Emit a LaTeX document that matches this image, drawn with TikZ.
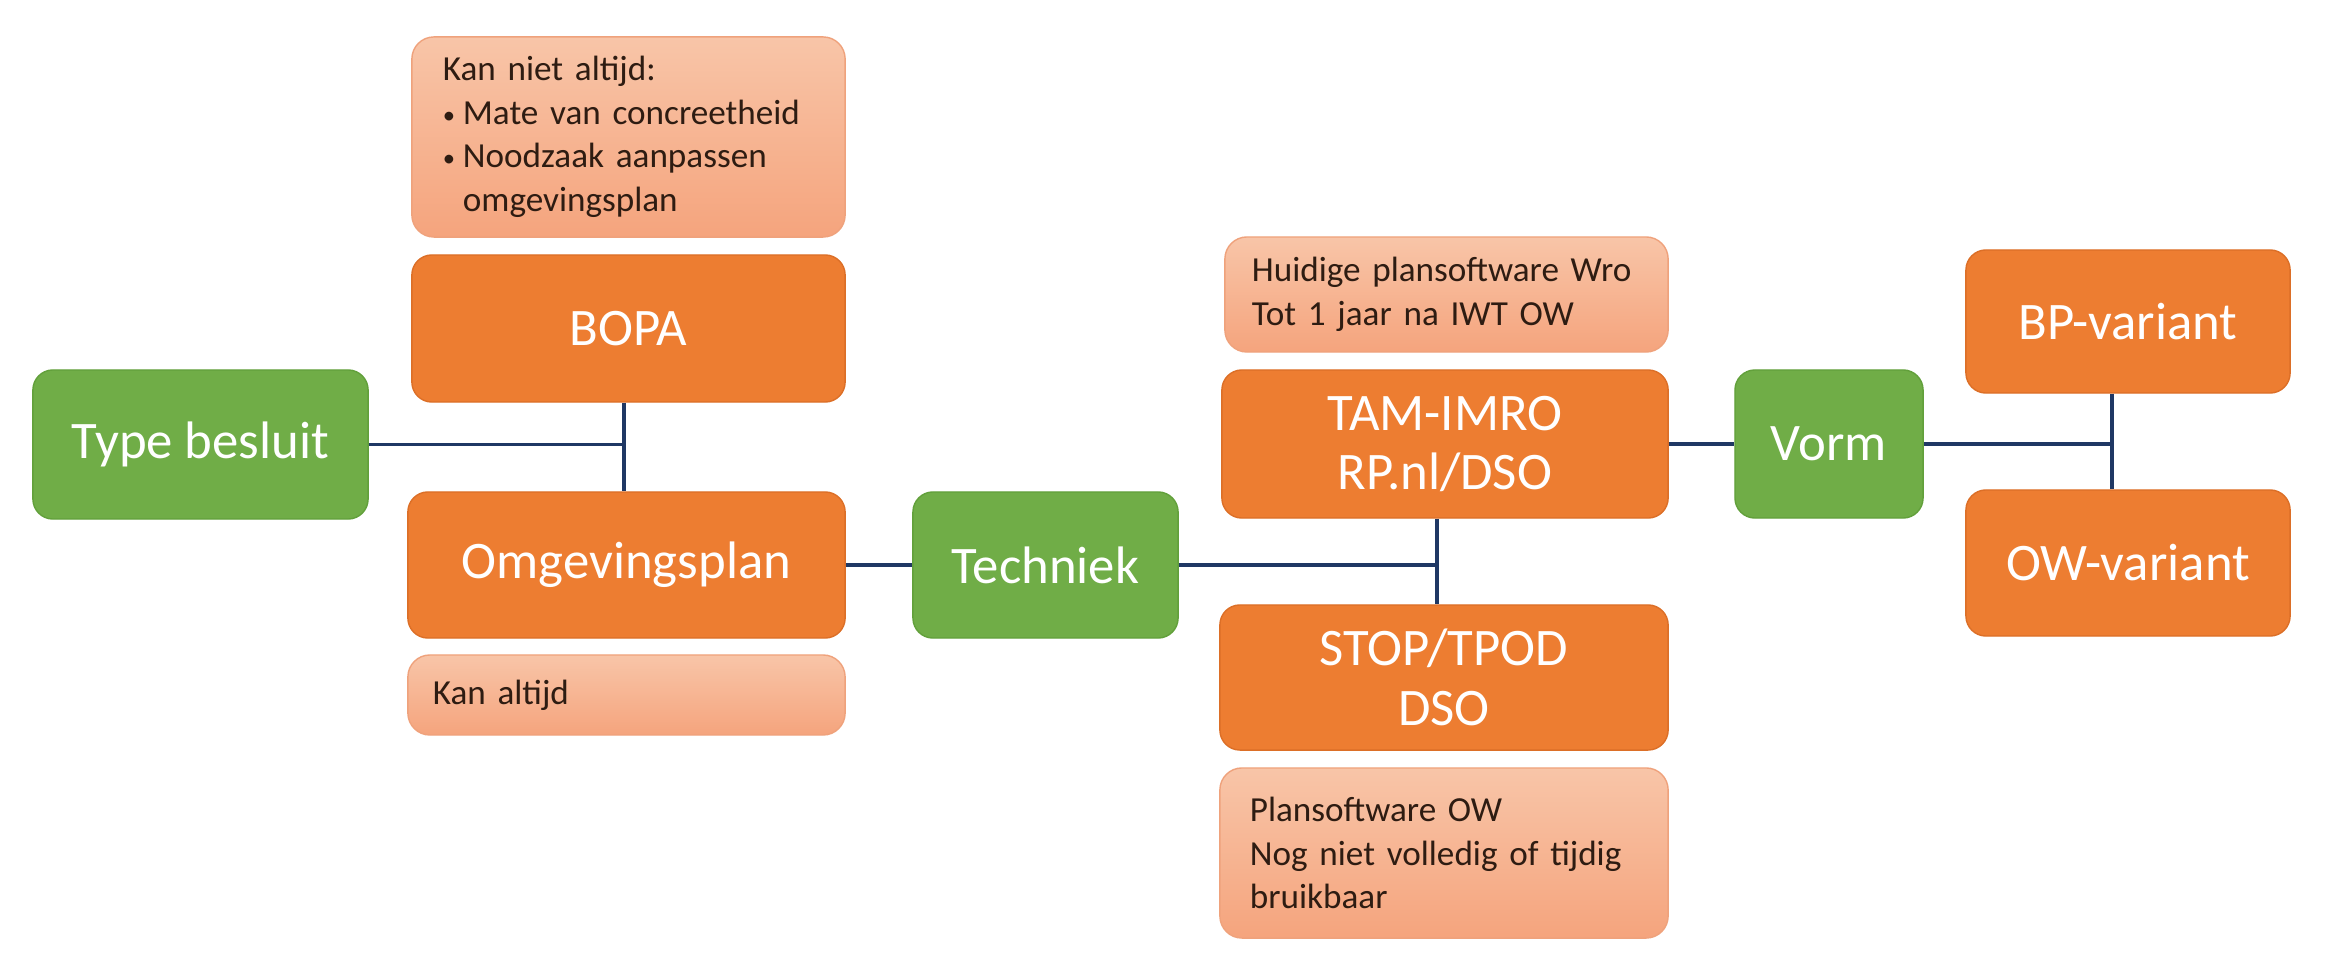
\documentclass[tikz,border=0pt]{standalone}
\usepackage{fontspec}
\setmainfont{Carlito}
\usetikzlibrary{positioning}

\definecolor{boxorange}{HTML}{ED7D31}
\definecolor{edgeorange}{HTML}{DC6F27}
\definecolor{boxgreen}{HTML}{70AD47}
\definecolor{edgegreen}{HTML}{62A03B}
\definecolor{notetop}{HTML}{F8C5A8}
\definecolor{notebot}{HTML}{F5A47D}
\definecolor{noteedge}{HTML}{EFA27C}
\definecolor{notetext}{HTML}{2E1C12}
\definecolor{linkblue}{HTML}{1F3864}

\newcommand{\notebullet}{\makebox[0.2cm][l]{\fontsize{7}{7}\selectfont\raisebox{0.3pt}{•}}}

\begin{document}
\begin{tikzpicture}[x=0.01cm, y=-0.01cm,
  mainbox/.style={rounded corners=0.2cm, fill=boxorange, draw=edgeorange, line width=.4pt, text=white, align=center, font=\fontsize{15}{17}\selectfont, inner sep=0pt},
  greenbox/.style={mainbox, fill=boxgreen, draw=edgegreen},
  notebox/.style={rounded corners=0.22cm, top color=notetop, bottom color=notebot, draw=noteedge, line width=.4pt, text=notetext, align=left, font=\fontsize{10}{12.4}\selectfont, inner sep=0pt},
  link/.style={draw=linkblue, line width=1.1pt}]
\useasboundingbox (0,0) rectangle (2352,967);

% left column
\node[greenbox, minimum width=3.35cm, minimum height=1.49cm] (typebesluit) at (200.5,444.5) {Type besluit};
\node[notebox, minimum width=4.33cm, minimum height=2.0cm, text width=3.71cm] (notetop) at (628.5,137) {Kan niet altijd:\\
\notebullet Mate van concreetheid\\
\notebullet Noodzaak aanpassen\\
\hspace*{0.2cm}omgevingsplan};
\node[mainbox, minimum width=4.33cm, minimum height=1.47cm] (bopa) at (628.5,328.5) {BOPA};
\node[mainbox, minimum width=4.37cm, minimum height=1.46cm] (omgplan) at (626.5,565) {Omgevingsplan};
\node[notebox, minimum width=4.37cm, minimum height=0.8cm, text width=3.87cm] (notekan) at (626.5,695) {Kan altijd};

% middle column
\node[greenbox, minimum width=2.65cm, minimum height=1.46cm] (techniek) at (1045.5,565) {Techniek};
\node[notebox, minimum width=4.43cm, minimum height=1.15cm, text width=3.89cm] (notehuidig) at (1446.5,294.5) {Huidige plansoftware Wro\\Tot 1 jaar na IWT OW};
\node[mainbox, minimum width=4.46cm, minimum height=1.48cm] (tamimro) at (1445,444) {TAM-IMRO\\RP.nl/DSO};
\node[mainbox, minimum width=4.48cm, minimum height=1.45cm] (stoptpod) at (1444,677.5) {STOP/TPOD\\DSO};
\node[notebox, minimum width=4.48cm, minimum height=1.7cm, text width=3.88cm] (noteplan) at (1444,853) {Plansoftware OW\\Nog niet volledig of tijdig\\bruikbaar};

% right column
\node[greenbox, minimum width=1.88cm, minimum height=1.48cm] (vorm) at (1829,444) {Vorm};
\node[mainbox, minimum width=3.24cm, minimum height=1.43cm] (bpvar) at (2128,321.5) {BP-variant};
\node[mainbox, minimum width=3.24cm, minimum height=1.46cm] (owvar) at (2128,563) {OW-variant};

% connectors
\coordinate (j1) at (624,444.5);
\coordinate (j2) at (1437,565);
\coordinate (j3) at (2112,444);
\draw[link] (typebesluit.east) -- (j1);
\draw[link] (bopa.south -| j1) -- (omgplan.north -| j1);
\draw[link] (omgplan.east) -- (techniek.west);
\draw[link] (techniek.east) -- (j2);
\draw[link] (tamimro.south -| j2) -- (stoptpod.north -| j2);
\draw[link] (tamimro.east) -- (vorm.west);
\draw[link] (vorm.east) -- (j3);
\draw[link] (bpvar.south -| j3) -- (owvar.north -| j3);
\end{tikzpicture}
\end{document}
